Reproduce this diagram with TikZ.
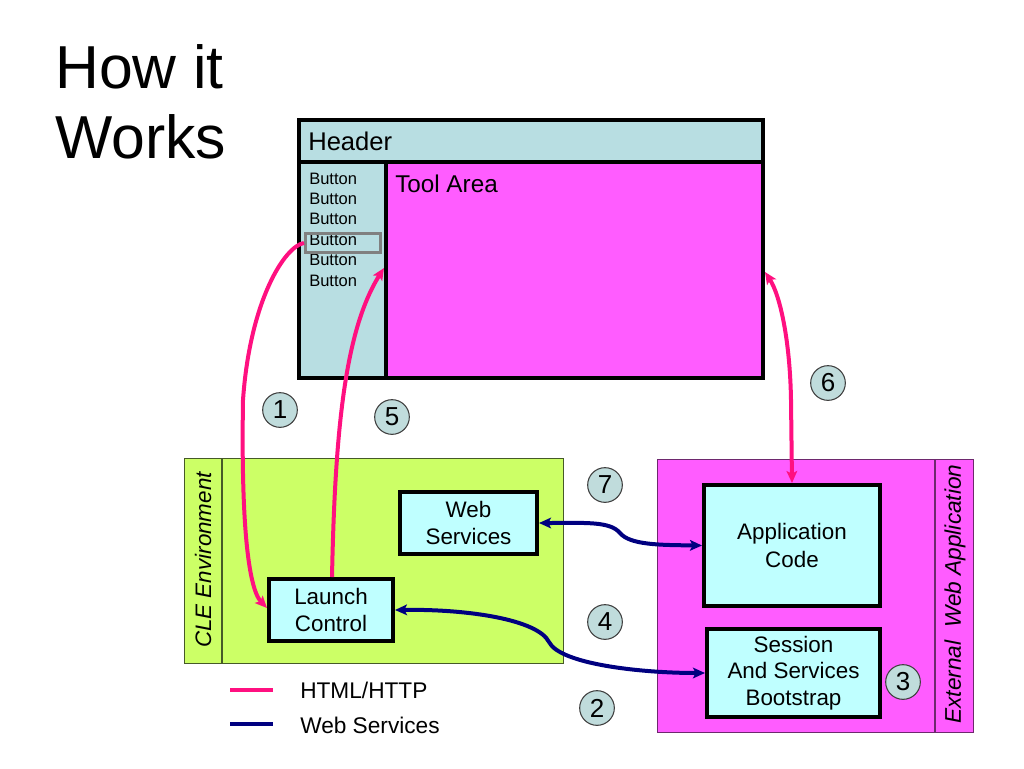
\documentclass[tikz,border=0pt]{standalone}
\usepackage{fontspec}
\setmainfont{Liberation Sans}
\usetikzlibrary{arrows.meta}
\definecolor{hdr}{RGB}{184,222,226}
\definecolor{mag}{RGB}{255,92,255}
\definecolor{lime}{RGB}{204,255,102}
\definecolor{cyanbox}{RGB}{191,255,255}
\definecolor{circ}{RGB}{192,220,220}
\definecolor{pinkline}{RGB}{255,16,128}
\definecolor{navyline}{RGB}{0,0,128}
\definecolor{olive}{RGB}{70,90,40}
\definecolor{plum}{RGB}{110,40,110}
\begin{document}
\begin{tikzpicture}[x=0.75pt,y=-0.75pt,
  frame/.style={draw=black, line width=3pt, inner sep=0pt, anchor=north west},
  box/.style={draw=black, line width=3pt, fill=cyanbox, align=center, inner sep=0pt, font=\fontsize{16.8}{20.5}\selectfont},
  num/.style={circle, draw=black!75, line width=0.8pt, fill=circ, minimum size=26pt, inner sep=0pt, font=\fontsize{19.5}{19.5}\selectfont},
  btntxt/.style={anchor=base west, inner sep=0pt, font=\fontsize{12.4}{14}\selectfont},
  http/.style={draw=pinkline, line width=3pt},
  ws/.style={draw=navyline, line width=3pt},
  tip/.style={-{Stealth[length=9pt,width=8pt,inset=2pt]}},
  tips/.style={{Stealth[length=9pt,width=8pt,inset=2pt]}-{Stealth[length=9pt,width=8pt,inset=2pt]}},
  legtxt/.style={anchor=base west, inner sep=0pt, font=\fontsize{17}{20}\selectfont},
  area/.style={inner sep=0pt, anchor=north west, line width=0.9pt}
]
\useasboundingbox (0,0) rectangle (1024,768);
\fill[white] (0,0) rectangle (1024,768);

% title
\node[anchor=base west, inner sep=0pt, font=\fontsize{45.5}{52}\selectfont] (title1) at (55,88) {How it};
\node[anchor=base west, inner sep=0pt, font=\fontsize{45.5}{52}\selectfont] (title2) at (55,158) {Works};

% browser window
\node[frame, fill=hdr, minimum width=65.25pt, minimum height=162pt] (sidebar) at (297,160) {};
\node[frame, fill=mag, minimum width=282.75pt, minimum height=162pt] (tool) at (384,160) {};
\node[frame, fill=hdr, minimum width=348pt, minimum height=31.5pt] (header) at (297,118) {};
\node[anchor=base west, inner sep=0pt, font=\fontsize{19.2}{22}\selectfont] (headertxt) at (308,150) {Header};
\node[anchor=base west, inner sep=0pt, font=\fontsize{18.2}{22}\selectfont] (tooltxt) at (395,192) {Tool Area};
\foreach \i in {0,...,5}{
  \node[btntxt] (b\i) at (309,{184+20.4*\i}) {Button};
}
\node[draw=black!50, line width=2.2pt, inner sep=0pt, anchor=north west, minimum width=56.25pt, minimum height=14.25pt] (btn) at (304,232) {};

% CLE environment
\node[area, draw=olive, fill=lime, minimum width=284.25pt, minimum height=153.75pt] (cle) at (184,458) {};
\draw[olive, line width=0.9pt] (cle.north west) ++(38,0) coordinate (cled1) -- (cled1 |- cle.south) coordinate (cled2);
\node[rotate=90, inner sep=0pt, font=\itshape\fontsize{16.8}{18}\selectfont] (cletxt) at (203,560) {CLE Environment};

% external web application
\node[area, draw=plum, fill=mag, minimum width=237pt, minimum height=204.75pt] (ext) at (657,459) {};
\draw[plum, line width=0.9pt] (ext.north west) ++(278,0) coordinate (extd1) -- (extd1 |- ext.south) coordinate (extd2);
\node[rotate=90, inner sep=0pt, font=\itshape\fontsize{17}{18}\selectfont] (exttxt) at (955,594) {External\ \ Web Application};

% inner boxes
\node[box, minimum width=102.75pt, minimum height=46.5pt] (wsb) at (468.5,523) {Web\\Services};
\node[box, minimum width=93pt, minimum height=46.5pt] (lc) at (331,610) {Launch\\Control};
\node[box, minimum width=132pt, minimum height=90.75pt] (ac) at (792,545.5) {Application\\Code};
\node[box, minimum width=129.75pt, minimum height=66pt, font=\fontsize{16.8}{20}\selectfont] (ses) at (793.5,673) {Session\\And Services\\Bootstrap};

% numbered circles
\node[num] (n1) at (280,410) {1};
\node[num] (n2) at (597,708) {2};
\node[num] (n3) at (903,682) {3};
\node[num] (n4) at (605,622) {4};
\node[num] (n5) at (392,417) {5};
\node[num] (n6) at (828,383) {6};
\node[num] (n7) at (605,485) {7};

% HTML/HTTP connectors
\draw[http, tip] (btn.west) .. controls (285,246) and (250,300) .. (243,400)
   .. controls (241,520) and (248,588) .. ([yshift=1.5pt]lc.west);
\draw[http, tip] (lc.north -| 332,0) .. controls (335,430) and (345,330) .. (tool.west |- 0,268);
\draw[http, tips] (tool.east |- 0,272) .. controls (780,295) and (790,340) .. (791,400) -- (ac.north);

% Web Services connectors
\draw[ws, tips] (wsb.east) .. controls (585,523) and (610,521) .. (620,533)
   .. controls (630,545) and (660,545) .. (ac.west);
\draw[ws, tips] (lc.east) .. controls (470,609) and (538,620) .. (549,642)
   .. controls (560,664) and (640,673) .. (ses.west);

% legend
\coordinate (lp1) at (230,690); \coordinate (lp2) at (273,690);
\coordinate (lw1) at (230,724); \coordinate (lw2) at (273,724);
\draw[http] (lp1) -- (lp2);
\draw[ws] (lw1) -- (lw2);
\node[legtxt] (legp) at (300,698) {HTML/HTTP};
\node[legtxt] (legw) at (300,733) {Web Services};
\end{tikzpicture}
\end{document}
